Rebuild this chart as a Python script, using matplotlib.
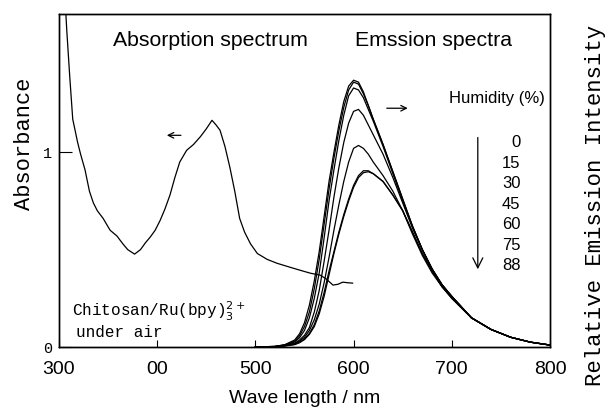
import numpy as np
import matplotlib
matplotlib.use("Agg")
import matplotlib.pyplot as plt

# absorption spectrum (wavelength nm, absorbance)
abs_wl = [306, 308, 311, 314, 319, 322, 326.5, 331, 335, 339, 345, 352, 359, 365, 370, 377, 383, 388, 393, 398,
          403, 408, 413, 418, 423, 430, 437, 444, 450, 455.8, 460, 464, 469, 474, 479, 484, 489, 495, 502, 512,
          522, 535, 545, 556, 566, 572, 579, 584, 589, 594, 599]
abs_val = [1.80, 1.62, 1.385, 1.17, 1.05, 0.99, 0.91, 0.80, 0.74, 0.70, 0.66, 0.60, 0.57, 0.53, 0.50, 0.477, 0.50,
           0.535, 0.565, 0.60, 0.65, 0.71, 0.78, 0.87, 0.95, 1.01, 1.04, 1.08, 1.12, 1.164, 1.14, 1.113, 1.03, 0.923,
           0.80, 0.66, 0.59, 0.53, 0.48, 0.45, 0.43, 0.41, 0.395, 0.379, 0.369, 0.35, 0.318, 0.322, 0.333, 0.33, 0.328]

# emission spectra at several humidities
em_wl = [500, 520, 530, 540, 545, 550, 555, 560, 565, 570, 575, 580, 585, 590, 595, 600, 605, 610, 615, 620,
         630, 640, 650, 660, 670, 680, 690, 700, 720, 740, 760, 780, 800]
humidity = ["0", "15", "30", "45", "60", "75", "88"]
em_0 = [0, 0.003, 0.012, 0.036, 0.068, 0.125, 0.215, 0.34, 0.49, 0.67, 0.85, 1.00, 1.14, 1.26, 1.34, 1.37, 1.36,
        1.31, 1.24, 1.17, 1.04, 0.90, 0.76, 0.62, 0.50, 0.40, 0.32, 0.26, 0.15, 0.09, 0.05, 0.025, 0.01]
em_15 = [0, 0.003, 0.011, 0.03, 0.058, 0.105, 0.18, 0.30, 0.45, 0.63, 0.81, 0.97, 1.11, 1.23, 1.32, 1.36, 1.35,
         1.30, 1.24, 1.17, 1.04, 0.90, 0.76, 0.62, 0.50, 0.40, 0.32, 0.26, 0.15, 0.09, 0.05, 0.025, 0.01]
em_30 = [0, 0.003, 0.01, 0.026, 0.048, 0.085, 0.15, 0.25, 0.38, 0.56, 0.75, 0.91, 1.06, 1.19, 1.29, 1.33, 1.32,
         1.28, 1.22, 1.16, 1.03, 0.89, 0.75, 0.62, 0.50, 0.40, 0.32, 0.26, 0.15, 0.09, 0.05, 0.025, 0.01]
em_45 = [0, 0.002, 0.008, 0.02, 0.036, 0.06, 0.10, 0.18, 0.29, 0.44, 0.60, 0.77, 0.92, 1.05, 1.15, 1.21, 1.22,
         1.19, 1.14, 1.09, 0.99, 0.87, 0.74, 0.61, 0.50, 0.40, 0.32, 0.26, 0.15, 0.09, 0.05, 0.025, 0.01]
em_60 = [0, 0.002, 0.007, 0.017, 0.03, 0.05, 0.085, 0.14, 0.22, 0.33, 0.46, 0.60, 0.73, 0.85, 0.95, 1.02, 1.035,
         1.02, 0.99, 0.95, 0.88, 0.80, 0.70, 0.59, 0.48, 0.39, 0.31, 0.255, 0.15, 0.09, 0.05, 0.025, 0.01]
em_75 = [0, 0.002, 0.006, 0.014, 0.025, 0.042, 0.07, 0.115, 0.185, 0.28, 0.39, 0.49, 0.59, 0.68, 0.76, 0.83, 0.88,
         0.905, 0.905, 0.89, 0.85, 0.78, 0.70, 0.59, 0.48, 0.39, 0.31, 0.25, 0.15, 0.09, 0.05, 0.025, 0.01]
em_88 = [0, 0.002, 0.005, 0.012, 0.022, 0.038, 0.065, 0.105, 0.17, 0.26, 0.37, 0.48, 0.58, 0.67, 0.75, 0.82, 0.87,
         0.895, 0.90, 0.89, 0.85, 0.78, 0.70, 0.58, 0.47, 0.38, 0.31, 0.25, 0.15, 0.09, 0.05, 0.025, 0.01]
emission = [em_0, em_15, em_30, em_45, em_60, em_75, em_88]

xticks = [300, 400, 500, 600, 700, 800]
xtick_labels = ["300", "00", "500", "600", "700", "800"]

sans = "Liberation Sans"
mono = "Liberation Mono"

fig = plt.figure(figsize=(6.1, 4.11), dpi=100)
ax = fig.add_axes([0.0967, 0.1557, 0.8049, 0.8103])
ax.plot(abs_wl, abs_val, color="black", lw=0.9)
ax.set_xlim(300, 800)
ax.set_ylim(0, 1.71)
ax.set_xticks(xticks)
ax.set_xticklabels(xtick_labels, fontfamily=sans, fontsize=14)
ax.set_yticks([0, 1])
ax.set_yticklabels(["0", "1"], fontfamily=mono, fontsize=11)
ax.tick_params(axis="x", direction="in", length=5, pad=10)
ax.tick_params(axis="y", direction="in", length=9, pad=5)
ax.set_xlabel("Wave length / nm", fontfamily=sans, fontsize=14, labelpad=9)
ax.set_ylabel("Absorbance", fontfamily=mono, fontsize=15.8)
ax.yaxis.set_label_coords(-0.048, 0.61)

ax2 = ax.twinx()
for vals in emission:
    ax2.plot(em_wl, vals, color="black", lw=0.9)
ax2.set_ylim(0, 1.71)
ax2.set_yticks([])
fig.text(596 / 610, 1 - 205 / 411, "Relative Emission Intensity", fontfamily=mono, fontsize=16,
         rotation=90, ha="center", va="center")

for a in (ax, ax2):
    for s in a.spines.values():
        s.set_linewidth(1.0)

ax.text(454, 1.575, "Absorption spectrum", fontfamily=sans, fontsize=15.3, ha="center", va="center")
ax.text(681, 1.575, "Emssion spectra", fontfamily=sans, fontsize=15.3, ha="center", va="center")
ax.annotate("", xy=(407, 1.087), xytext=(427, 1.087),
            arrowprops=dict(arrowstyle="->", color="black", lw=0.9))
ax.annotate("", xy=(658, 1.226), xytext=(631, 1.226),
            arrowprops=dict(arrowstyle="->", color="black", lw=0.9))
ax.text(746, 1.277, "Humidity (%)", fontfamily=sans, fontsize=12, ha="center", va="center")
ax.annotate("", xy=(726.5, 0.385), xytext=(726.5, 1.09),
            arrowprops=dict(arrowstyle="->", color="black", lw=0.9, mutation_scale=18))
for i, h in enumerate(humidity):
    ax.text(770, 1.05 - i * 0.1056, h, fontfamily=sans, fontsize=12, ha="right", va="center")

ax.text(313, 0.185, "Chitosan/Ru(bpy)$_3^{2+}$", fontfamily=mono, fontsize=11.5, ha="left", va="center")
ax.text(317, 0.072, "under air", fontfamily=mono, fontsize=11.5, ha="left", va="center")

fig.savefig("out.png", dpi=100)
